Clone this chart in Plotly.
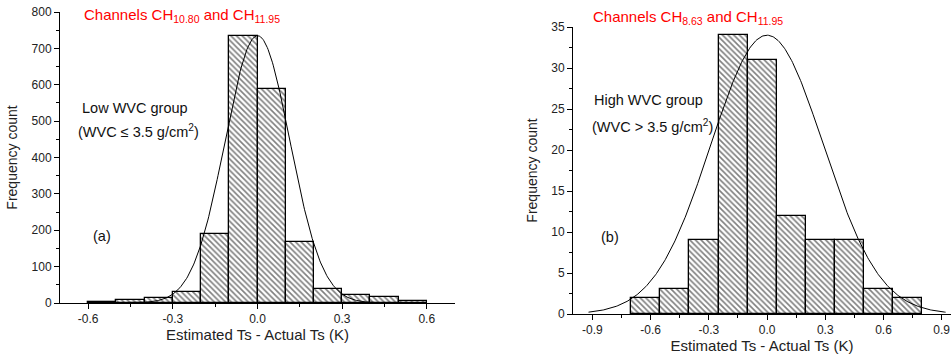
import numpy as np
import plotly.graph_objects as go

# ---------------- data ----------------
# Panel (a): low WVC group, bins of 0.1 K
a_edges = [-0.6, -0.5, -0.4, -0.3, -0.2, -0.1, 0.0, 0.1, 0.2, 0.3, 0.4, 0.5, 0.6]
a_counts = [3, 7, 13, 30, 189, 735, 587, 167, 38, 21, 17, 5]
a_fit = dict(amp=735, mu=0.0, sigma=0.115, lo=-0.6, hi=0.6)
a_xticks = [-0.6, -0.3, 0.0, 0.3, 0.6]
a_xticktext = ["-0.6", "-0.3", "0.0", "0.3", "0.6"]
a_yticks = [0, 100, 200, 300, 400, 500, 600, 700, 800]

# Panel (b): high WVC group, bins of 0.15 K
b_edges = [-0.7, -0.55, -0.4, -0.25, -0.1, 0.05, 0.2, 0.35, 0.5, 0.65, 0.8]
b_counts = [2, 3, 9, 34, 31, 12, 9, 9, 3, 2]
b_fit = dict(amp=34, mu=0.0, sigma=0.29, lo=-0.92, hi=0.92)
b_xticks = [-0.9, -0.6, -0.3, 0.0, 0.3, 0.6, 0.9]
b_xticktext = ["-0.9", "-0.6", "-0.3", "0.0", "0.3", "0.6", "0.9"]
b_yticks = [0, 5, 10, 15, 20, 25, 30, 35]

W, H = 951, 360
FONT = "Liberation Sans, Arial, sans-serif"


def bars(edges, counts, xa, ya):
    e = np.array(edges)
    centers = (e[:-1] + e[1:]) / 2
    widths = e[1:] - e[:-1]
    return go.Bar(
        x=centers, y=counts, width=widths, xaxis=xa, yaxis=ya,
        marker=dict(
            color="white",
            line=dict(color="black", width=1.3),
            pattern=dict(shape="\\", fgcolor="black", bgcolor="white",
                         size=4, solidity=0.4, fillmode="overlay"),
        ),
        showlegend=False, hoverinfo="skip",
    )


def fit_curve(p, xa, ya):
    x = np.linspace(p["lo"], p["hi"], 400)
    y = p["amp"] * np.exp(-((x - p["mu"]) ** 2) / (2 * p["sigma"] ** 2))
    return go.Scatter(x=x, y=y, mode="lines", xaxis=xa, yaxis=ya,
                      line=dict(color="black", width=1),
                      showlegend=False, hoverinfo="skip")


fig = go.Figure()
fig.add_trace(bars(a_edges, a_counts, "x", "y"))
fig.add_trace(fit_curve(a_fit, "x", "y"))
fig.add_trace(bars(b_edges, b_counts, "x2", "y2"))
fig.add_trace(fit_curve(b_fit, "x2", "y2"))

axis_common = dict(
    showline=True, linecolor="black", linewidth=1,
    ticks="outside", ticklen=5, tickwidth=1, tickcolor="black",
    showgrid=False, zeroline=False,
    tickfont=dict(family=FONT, size=12, color="#222222"),
)
xtitle_font = dict(family=FONT, size=15, color="#222222")
ytitle_font = dict(family=FONT, size=14, color="#222222")

fig.update_layout(
    width=W, height=H,
    margin=dict(l=0, r=0, t=0, b=0, autoexpand=False),
    paper_bgcolor="white", plot_bgcolor="white",
    bargap=0,
    xaxis=dict(domain=[60 / W, 455 / W], range=[-0.7, 0.7], anchor="y",
               tickvals=a_xticks, ticktext=a_xticktext,
               minor=dict(ticks="outside", ticklen=3, dtick=0.15, tick0=0, tickcolor="black"),
               title=dict(text="Estimated Ts - Actual Ts (K)", standoff=4, font=xtitle_font),
               **axis_common),
    yaxis=dict(domain=[(H - 303) / H, (H - 12) / H], range=[0, 800], anchor="x",
               tickvals=a_yticks,
               minor=dict(ticks="outside", ticklen=3, dtick=50, tick0=0, tickcolor="black"),
               title=dict(text="Frequency count", standoff=10, font=ytitle_font),
               **axis_common),
    xaxis2=dict(domain=[573 / W, 1.0], range=[-1.0, 0.948], anchor="y2",
                tickvals=b_xticks, ticktext=b_xticktext,
                minor=dict(ticks="outside", ticklen=3, dtick=0.15, tick0=0, tickcolor="black"),
                title=dict(text="Estimated Ts - Actual Ts (K)", standoff=4, font=xtitle_font),
                **axis_common),
    yaxis2=dict(domain=[(H - 314) / H, (H - 27) / H], range=[0, 35], anchor="x2",
                tickvals=b_yticks,
                minor=dict(ticks="outside", ticklen=3, dtick=2.5, tick0=0, tickcolor="black"),
                title=dict(text="Frequency count", standoff=10, font=ytitle_font),
                **axis_common),
)

txt = dict(family=FONT, size=14.5, color="#111111")
red = dict(family=FONT, size=15, color="#ff0000")


def note(x, y, text, font, xanchor="left"):
    fig.add_annotation(x=x / W, y=1 - y / H, xref="paper", yref="paper",
                       text=text, showarrow=False, font=font,
                       xanchor=xanchor, yanchor="middle")


note(82, 16, "Channels CH<sub>10.80</sub> and CH<sub>11.95</sub>", red)
note(80, 108, "Low WVC group", txt)
note(76, 131, "(WVC ≤ 3.5 g/cm<sup>2</sup>)", txt)
note(91, 236, "(a)", txt)

note(591, 17, "Channels CH<sub>8.63</sub> and CH<sub>11.95</sub>", red)
note(592, 100, "High WVC group", txt)
note(590, 126, "(WVC > 3.5 g/cm<sup>2</sup>)", txt)
note(599, 237, "(b)", txt)

fig.write_html("out.html")
